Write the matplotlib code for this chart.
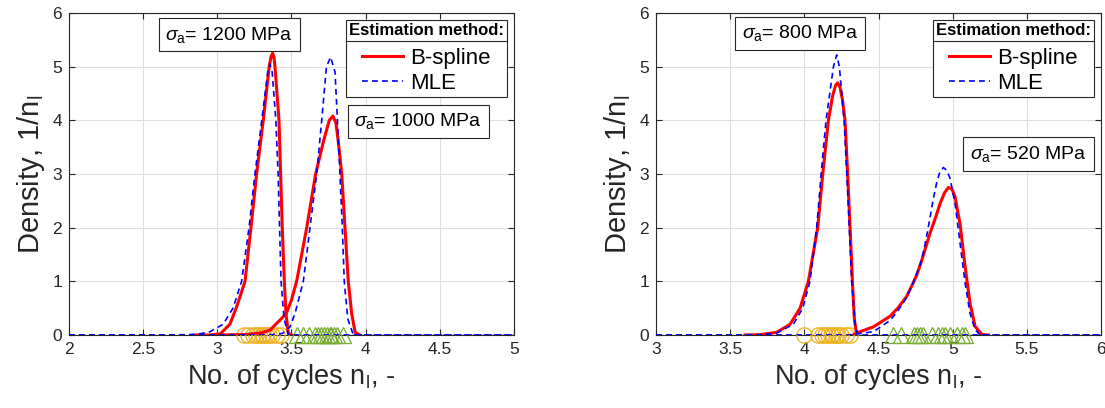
import matplotlib
matplotlib.use("Agg")
import matplotlib.pyplot as plt
from matplotlib.lines import Line2D

plt.rcParams['font.family'] = ['Liberation Sans', 'DejaVu Sans']
plt.rcParams['mathtext.fontset'] = 'custom'
plt.rcParams['mathtext.rm'] = 'Liberation Sans'
plt.rcParams['mathtext.it'] = 'Liberation Sans:italic'

##########################
# Data
##########################
# left panel: 1200 MPa and 1000 MPa
red_1200_x = [2.86, 2.95, 3.02, 3.085, 3.13, 3.187, 3.227, 3.265, 3.31, 3.35, 3.362, 3.373, 3.382, 3.389, 3.416, 3.427, 3.438, 3.452, 3.463, 3.479, 3.50]
red_1200_y = [0, 0, 0.02, 0.2, 0.52, 1.0, 2.0, 3.0, 4.0, 5.0, 5.18, 5.25, 5.18, 5.0, 4.0, 3.0, 2.0, 1.0, 0.4, 0.03, 0]
blue_1200_x = [2.0, 2.55, 2.80, 2.88, 2.95, 3.04, 3.106, 3.164, 3.214, 3.254, 3.30, 3.34, 3.355, 3.37, 3.395, 3.41, 3.42, 3.43, 3.45, 3.48, 5.0]
blue_1200_y = [0, 0, 0.005, 0.02, 0.06, 0.2, 0.5, 1.0, 2.0, 3.0, 4.0, 4.9, 5.05, 4.9, 4.0, 3.0, 2.0, 1.0, 0.3, 0, 0]

red_1000_x = [3.02, 3.20, 3.30, 3.355, 3.42, 3.465, 3.50, 3.535, 3.603, 3.663, 3.715, 3.755, 3.78, 3.80, 3.816, 3.839, 3.861, 3.883, 3.906, 3.929, 3.96]
red_1000_y = [0, 0.01, 0.04, 0.09, 0.27, 0.4, 0.65, 1.0, 2.0, 3.0, 3.6, 4.0, 4.08, 3.95, 3.6, 3.0, 2.0, 1.0, 0.4, 0.05, 0]
blue_1000_x = [2.0, 3.30, 3.40, 3.44, 3.49, 3.524, 3.58, 3.625, 3.67, 3.704, 3.736, 3.764, 3.794, 3.81, 3.827, 3.843, 3.856, 3.88, 3.917, 5.0]
blue_1000_y = [0, 0, 0.01, 0.03, 0.15, 0.4, 1.0, 2.0, 3.0, 4.0, 5.0, 5.18, 4.9, 4.0, 3.0, 2.0, 1.0, 0.3, 0, 0]

obs_1200 = [3.18, 3.21, 3.24, 3.26, 3.28, 3.30, 3.31, 3.33, 3.35, 3.37, 3.40, 3.43]
obs_1000 = [3.54, 3.58, 3.62, 3.66, 3.68, 3.70, 3.72, 3.74, 3.76, 3.77, 3.79, 3.81, 3.85]

# right panel: 800 MPa and 520 MPa
red_800_x = [3.60, 3.70, 3.814, 3.904, 3.971, 4.027, 4.09, 4.124, 4.162, 4.19, 4.21, 4.225, 4.24, 4.256, 4.274, 4.292, 4.308, 4.324, 4.337, 4.353]
red_800_y = [0, 0.005, 0.05, 0.2, 0.5, 1.0, 2.0, 3.0, 4.0, 4.45, 4.65, 4.70, 4.62, 4.4, 4.0, 3.0, 2.0, 1.0, 0.3, 0]
blue_800_x = [3.0, 3.45, 3.70, 3.81, 3.926, 3.989, 4.038, 4.083, 4.113, 4.146, 4.196, 4.218, 4.236, 4.268, 4.286, 4.303, 4.319, 4.342, 4.36, 6.0]
blue_800_y = [0, 0, 0.005, 0.03, 0.2, 0.5, 1.0, 2.0, 3.0, 4.0, 5.0, 5.22, 5.0, 4.0, 3.0, 2.0, 1.0, 0.2, 0, 0]

red_520_x = [4.33, 4.353, 4.465, 4.578, 4.63, 4.69, 4.73, 4.758, 4.79, 4.82, 4.85, 4.886, 4.915, 4.945, 4.971, 4.995, 5.016, 5.05, 5.084, 5.117, 5.151, 5.196, 5.24]
red_520_y = [0, 0.04, 0.15, 0.35, 0.5, 0.72, 0.95, 1.12, 1.38, 1.65, 1.92, 2.2, 2.45, 2.65, 2.75, 2.72, 2.57, 2.06, 1.27, 0.59, 0.16, 0.01, 0]
blue_520_x = [3.0, 4.30, 4.353, 4.465, 4.578, 4.63, 4.69, 4.73, 4.758, 4.78, 4.803, 4.825, 4.848, 4.87, 4.893, 4.915, 4.937, 4.96, 4.982, 5.016, 5.05, 5.084, 5.117, 5.151, 5.185, 6.0]
blue_520_y = [0, 0, 0.02, 0.06, 0.27, 0.45, 0.7, 0.95, 1.15, 1.3, 1.55, 1.85, 2.2, 2.55, 2.85, 3.05, 3.12, 3.07, 2.92, 2.45, 1.7, 0.96, 0.4, 0.1, 0, 0]

obs_800 = [4.00, 4.09, 4.12, 4.14, 4.16, 4.18, 4.19, 4.21, 4.23, 4.25, 4.28, 4.31]
obs_520 = [4.60, 4.65, 4.74, 4.76, 4.78, 4.80, 4.86, 4.90, 4.93, 4.95, 4.98, 5.03, 5.06, 5.08]

left_xticks = [2, 2.5, 3, 3.5, 4, 4.5, 5]
left_xticklabels = ['2', '2.5', '3', '3.5', '4', '4.5', '5']
right_xticks = [3, 3.5, 4, 4.5, 5, 5.5, 6]
right_xticklabels = ['3', '3.5', '4', '4.5', '5', '5.5', '6']
yticks = [0, 1, 2, 3, 4, 5, 6]

##########################
# Styles
##########################
red = (1, 0, 0)
blue = (0, 0, 1)
orange = (0.929, 0.694, 0.125)
green = (0.466, 0.674, 0.188)
axcol = (0.15, 0.15, 0.15)


def setup_axes(ax, xticks, xticklabels):
    ax.set_xlim(xticks[0], xticks[-1])
    ax.set_ylim(0, 6)
    ax.set_xticks(xticks)
    ax.set_xticklabels(xticklabels)
    ax.set_yticks(yticks)
    ax.grid(True, color=(0.87, 0.87, 0.87), linewidth=0.8)
    ax.set_axisbelow(True)
    ax.tick_params(direction='in', top=True, right=True, length=4,
                   labelsize=12.5, colors=axcol, pad=5)
    for s in ax.spines.values():
        s.set_color(axcol)
        s.set_linewidth(0.8)
    ax.set_xlabel('No. of cycles n$_\\mathregular{l}$, -', fontsize=19.5, color=axcol, labelpad=4)
    ax.set_ylabel('Density, 1/n$_\\mathregular{l}$', fontsize=21, color=axcol, labelpad=4)


def add_curves(ax, rx1, ry1, bx1, by1, rx2, ry2, bx2, by2, obs1, obs2):
    ax.plot(obs1, [0] * len(obs1), 'o', ms=11, mfc='none', mec=orange, mew=0.9, clip_on=False, zorder=3)
    ax.plot(obs2, [0] * len(obs2), '^', ms=11, mfc='none', mec=green, mew=0.9, clip_on=False, zorder=3)
    ax.plot(rx1, ry1, color=red, lw=2.2, zorder=4, label='B-spline')
    ax.plot(bx1, by1, color=blue, lw=1.2, ls=(0, (3.5, 2.5)), zorder=5, label='MLE')
    ax.plot(rx2, ry2, color=red, lw=2.2, zorder=4)
    ax.plot(bx2, by2, color=blue, lw=1.2, ls=(0, (3.5, 2.5)), zorder=5)


def add_label(ax, x, y, txt):
    ax.text(x, y, txt, fontsize=14, ha='center', va='center', zorder=6,
            bbox=dict(boxstyle='square,pad=0.35', fc='white', ec=axcol, lw=0.8))


def add_legend(fig, ax):
    leg = ax.legend(loc='upper right', title='Estimation method:', fontsize=16,
                    title_fontproperties={'weight': 'bold', 'size': 12},
                    frameon=True, fancybox=False, edgecolor=axcol, framealpha=1,
                    borderaxespad=0.3, handlelength=1.85, handletextpad=0.3,
                    borderpad=0.15, labelspacing=0.18, alignment='center')
    leg.get_frame().set_linewidth(0.8)
    leg.set_zorder(7)
    # extra room between the title and the entries
    leg._legend_box.sep = 7
    return leg


fig = plt.figure(figsize=(11.05, 4.08), dpi=100)
ax1 = fig.add_axes([0.0624, 0.179, 0.4027, 0.789])
ax2 = fig.add_axes([0.5937, 0.179, 0.4027, 0.789])

setup_axes(ax1, left_xticks, left_xticklabels)
setup_axes(ax2, right_xticks, right_xticklabels)

add_curves(ax1, red_1200_x, red_1200_y, blue_1200_x, blue_1200_y,
           red_1000_x, red_1000_y, blue_1000_x, blue_1000_y, obs_1200, obs_1000)
add_curves(ax2, red_800_x, red_800_y, blue_800_x, blue_800_y,
           red_520_x, red_520_y, blue_520_x, blue_520_y, obs_800, obs_520)

add_label(ax1, 3.08, 5.6, '$\\sigma_\\mathregular{a}$= 1200 MPa')
add_label(ax1, 4.355, 3.98, '$\\sigma_\\mathregular{a}$= 1000 MPa')
add_label(ax2, 3.97, 5.62, '$\\sigma_\\mathregular{a}$= 800 MPa')
add_label(ax2, 5.51, 3.37, '$\\sigma_\\mathregular{a}$= 520 MPa')

legs = [add_legend(fig, ax1), add_legend(fig, ax2)]

# separator line under the legend title
fig.canvas.draw()
inv = fig.transFigure.inverted()
for leg in legs:
    fb = leg.get_frame().get_window_extent()
    tb = leg.get_title().get_window_extent()
    y = tb.y0 - 3
    (x0, y0) = inv.transform((fb.x0, y))
    (x1, _) = inv.transform((fb.x1, y))
    fig.add_artist(Line2D([x0, x1], [y0, y0], color=axcol, lw=0.8, zorder=10))

fig.savefig('out.png', dpi=100)
